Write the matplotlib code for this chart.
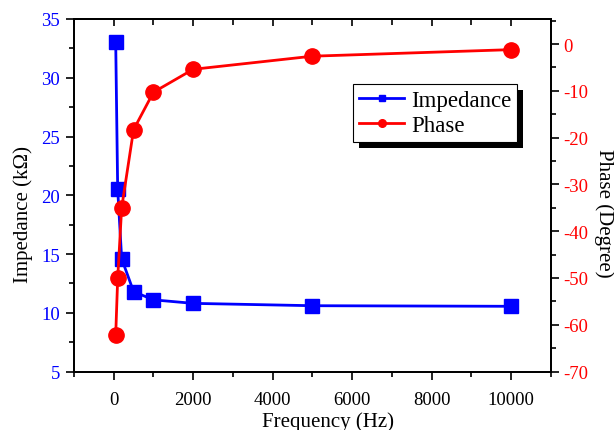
import matplotlib
matplotlib.use("Agg")
import matplotlib.pyplot as plt
from matplotlib.patches import Rectangle
from matplotlib.ticker import MultipleLocator
from matplotlib.transforms import IdentityTransform

plt.rcParams['font.family'] = ['Liberation Serif', 'DejaVu Serif']
plt.rcParams['axes.unicode_minus'] = False

freq = [50, 100, 200, 500, 1000, 2000, 5000, 10000]
impedance = [33.0, 20.5, 14.6, 11.8, 11.1, 10.8, 10.6, 10.55]
phase = [-62.2, -50.1, -35.0, -18.3, -10.3, -5.4, -2.6, -1.2]

fig = plt.figure(figsize=(6.14, 4.31), dpi=100)
ax = fig.add_axes([0.1205, 0.1357, 0.7765, 0.8179])
ax2 = ax.twinx()

l1, = ax.plot(freq, impedance, color='#0000FF', marker='s', markersize=10,
              linewidth=2.0, label='Impedance', zorder=3)
l2, = ax2.plot(freq, phase, color='#FF0000', marker='o', markersize=11,
               linewidth=2.0, label='Phase', zorder=3)

ax.set_xlim(-1000, 11000)
ax.set_ylim(5, 35)
ax2.set_ylim(-70, 5.35)

ax.xaxis.set_major_locator(MultipleLocator(2000))
ax.xaxis.set_minor_locator(MultipleLocator(1000))
ax.yaxis.set_major_locator(MultipleLocator(5))
ax.yaxis.set_minor_locator(MultipleLocator(2.5))
ax2.yaxis.set_major_locator(MultipleLocator(10))
ax2.yaxis.set_minor_locator(MultipleLocator(5))

ax.tick_params(axis='x', which='both', direction='out', top=False, labelsize=13.5,
               colors='black', width=1.2, pad=8)
ax.tick_params(axis='x', which='major', length=6)
ax.tick_params(axis='x', which='minor', length=3.5)
ax.tick_params(axis='y', which='both', direction='out', labelsize=13.5,
               labelcolor='#0000FF', color='black', width=1.2, pad=4)
ax.tick_params(axis='y', which='major', length=6)
ax.tick_params(axis='y', which='minor', length=3.5)
ax2.tick_params(axis='y', which='both', direction='out', labelsize=13.5,
                labelcolor='#FF0000', color='black', width=1.2, pad=3)
ax2.tick_params(axis='y', which='major', length=6)
ax2.tick_params(axis='y', which='minor', length=3.5)

# top ticks inward
secx = ax.secondary_xaxis('top')
secx.xaxis.set_major_locator(MultipleLocator(2000))
secx.xaxis.set_minor_locator(MultipleLocator(1000))
secx.tick_params(axis='x', which='both', direction='in', labeltop=False, width=1.2)
secx.tick_params(axis='x', which='major', length=5)
secx.tick_params(axis='x', which='minor', length=4)
secx.spines['top'].set_linewidth(1.3)

for sp in list(ax.spines.values()) + list(ax2.spines.values()):
    sp.set_linewidth(1.3)

ax.set_xlabel('Frequency (Hz)', fontsize=15)
ax.set_ylabel('Impedance (k\u03a9)', fontsize=15)
ax2.set_ylabel('Phase (Degree)', fontsize=15, rotation=270)
for lab in (ax.yaxis.label, ax2.yaxis.label):
    lab.set_ha('center')
    lab.set_va('center')
ax.xaxis.label.set_ha('center')
ax.xaxis.label.set_va('baseline')
ax.xaxis.set_label_coords(0.532, -0.1546)
ax.yaxis.set_label_coords(-0.107, 0.447)
ax2.yaxis.set_label_coords(1.112, 0.452)

leg = ax2.legend([l1, l2], ['Impedance', 'Phase'], loc='upper left',
                 bbox_to_anchor=(0.585, 0.816), fontsize=16.5, markerscale=0.5,
                 handlelength=2.0, handletextpad=0.3, borderpad=0.25,
                 labelspacing=0.2, fancybox=False, framealpha=1,
                 edgecolor='black', borderaxespad=0)
leg.get_frame().set_linewidth(0.8)
leg.set_zorder(10)

fig.canvas.draw()
bb = leg.get_window_extent()
shadow = Rectangle((bb.x0 + 6, bb.y0 - 6), bb.width, bb.height,
                   transform=IdentityTransform(), facecolor='black',
                   edgecolor='none', zorder=9)
ax2.add_artist(shadow)

fig.savefig('out.png', dpi=100)
